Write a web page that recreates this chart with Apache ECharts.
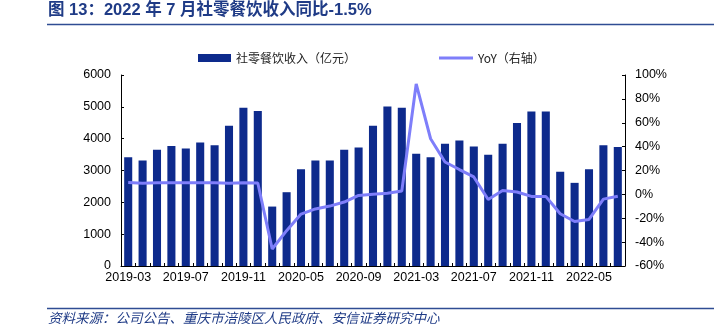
<!DOCTYPE html>
<html><head><meta charset="utf-8">
<script src="https://cdn.jsdelivr.net/npm/echarts@6/dist/echarts.min.js"></script>
<style>html,body{margin:0;padding:0;background:#fff}#c{width:716px;height:335px}</style>
</head><body><div id="c"></div>
<script>
const categories = [
 '2019-03','2019-04','2019-05','2019-06','2019-07','2019-08','2019-09','2019-10','2019-11','2019-12',
 '2020-03','2020-04','2020-05','2020-06','2020-07','2020-08','2020-09','2020-10','2020-11','2020-12',
 '2021-03','2021-04','2021-05','2021-06','2021-07','2021-08','2021-09','2021-10','2021-11','2021-12',
 '2022-03','2022-04','2022-05','2022-06','2022-07'];
const revenue = [
 3420,3315,3650,3766,3692,3881,3797,4406,4972,4867,
 1867,2318,3042,3315,3315,3650,3724,4406,5014,4972,
 3524,3420,3839,3944,3755,3493,3839,4490,4857,4857,
 2958,2612,3042,3797,3736];
const yoy = [
 9.9,9.3,9.8,9.8,9.8,9.8,9.8,9.3,9.8,9.5,
 -45.8,-30.4,-16.5,-12.2,-9.8,-6.4,-0.9,0.2,1.0,2.8,
 92.5,46.6,27.1,20.8,14.6,-4.3,3.2,2.0,-1.7,-1.7,
 -16.2,-22.7,-21.0,-4.0,-1.5];
const leftTicks = {min:0,max:6000,interval:1000};
const rightTicks = {min:-60,max:100,interval:20};

const cjk = '"Noto Sans CJK SC", "Liberation Sans", sans-serif';
const latin = '"Liberation Sans", Arial, "Noto Sans CJK SC", sans-serif';
const chart = echarts.init(document.getElementById('c'), null, {renderer:'canvas'});
chart.setOption({
  animation:false,
  graphic:[
    {type:'text', left:48, top:2, style:{text:'图 13：2022 年 7 月社零餐饮收入同比-1.5%', font:'bold 16.5px '+latin, fill:'#1F3B86'}},
    {type:'line', shape:{x1:47,y1:24.5,x2:714,y2:24.5}, style:{stroke:'#2F4D93', lineWidth:1.5}},
    {type:'line', shape:{x1:47,y1:308.5,x2:714,y2:308.5}, style:{stroke:'#2F4D93', lineWidth:1.5}},
    {type:'text', left:48, top:311, style:{text:'资料来源：公司公告、重庆市涪陵区人民政府、安信证券研究中心', font:'italic 13.5px '+cjk, fill:'#1F3B86'}}
  ],
  legend:[
    {data:[{name:'社零餐饮收入（亿元）', icon:'rect'}], left:193, top:47, itemWidth:33, itemHeight:8, itemGap:4,
     textStyle:{fontSize:12, color:'#222', fontFamily:cjk}},
    {data:[{name:'YoY（右轴）', icon:'rect'}], left:434, top:47, itemWidth:34, itemHeight:3, itemGap:4,
     textStyle:{fontSize:12, color:'#222', fontFamily:cjk}}
  ],
  grid:{left:121, right:91, top:75, bottom:69, containLabel:false},
  xAxis:{type:'category', data:categories, boundaryGap:true,
    axisLine:{lineStyle:{color:'#000', width:1}},
    axisTick:{show:true, inside:true, interval:0, length:3, lineStyle:{color:'#000'}},
    axisLabel:{interval:3, color:'#000', fontSize:12.5, fontFamily:latin, margin:5}},
  yAxis:[
    {type:'value', min:leftTicks.min, max:leftTicks.max, interval:leftTicks.interval,
     splitLine:{show:false}, axisLine:{show:true, lineStyle:{color:'#000'}},
     axisTick:{show:true, inside:true, length:3, lineStyle:{color:'#000'}},
     axisLabel:{color:'#000', fontSize:12.5, fontFamily:latin, margin:10, formatter:function(v){return String(v);}}},
    {type:'value', min:rightTicks.min, max:rightTicks.max, interval:rightTicks.interval,
     splitLine:{show:false}, axisLine:{show:true, lineStyle:{color:'#000'}},
     axisTick:{show:true, inside:true, length:3, lineStyle:{color:'#000'}},
     axisLabel:{color:'#000', fontSize:12.5, fontFamily:latin, margin:10, formatter:function(v){return v+'%';}}}
  ],
  series:[
    {name:'社零餐饮收入（亿元）', type:'bar', data:revenue, barCategoryGap:'44%',
     itemStyle:{color:'#0D2A8C'}},
    {name:'YoY（右轴）', type:'line', yAxisIndex:1, data:yoy, symbol:'none', smooth:false,
     lineStyle:{color:'#7E7EFA', width:3}, itemStyle:{color:'#7E7EFA'}}
  ]
});
</script></body></html>
